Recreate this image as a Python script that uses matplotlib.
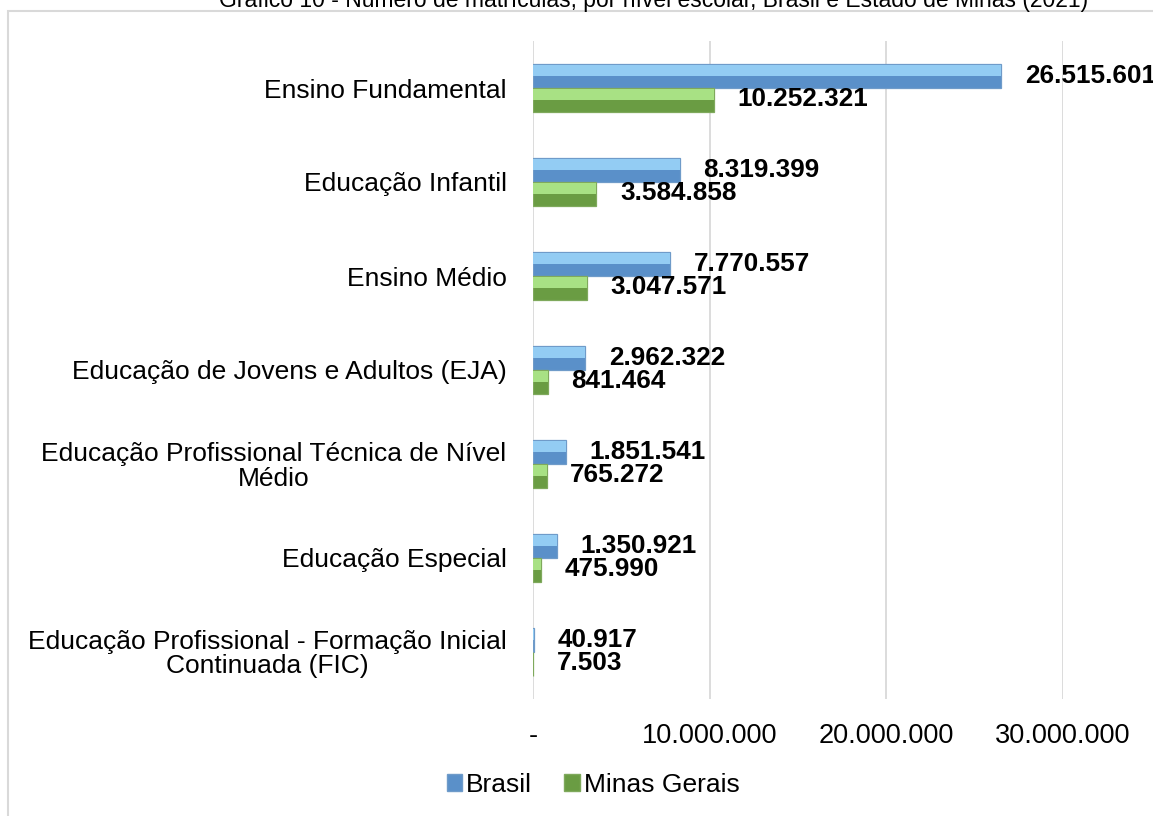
import matplotlib
matplotlib.use("Agg")
import matplotlib.pyplot as plt
from matplotlib.patches import Rectangle, Patch

plt.rcParams['font.family'] = ['Liberation Sans', 'DejaVu Sans']

categorias = [
    "Ensino Fundamental",
    "Educação Infantil",
    "Ensino Médio",
    "Educação de Jovens e Adultos (EJA)",
    "Educação Profissional Técnica de Nível\nMédio",
    "Educação Especial",
    "Educação Profissional - Formação Inicial\nContinuada (FIC)",
]
brasil = [26515601, 8319399, 7770557, 2962322, 1851541, 1350921, 40917]
minas = [10252321, 3584858, 3047571, 841464, 765272, 475990, 7503]
ticks = [0, 10000000, 20000000, 30000000]
titulo = "Gráfico 10 - Número de matrículas, por nível escolar, Brasil e Estado de Minas (2021)"


def fmt(v):
    if v == 0:
        return "-"
    return f"{v:,}".replace(",", ".")


W, H = 1153, 816
fig = plt.figure(figsize=(W / 100, H / 100), dpi=100)
ax = fig.add_axes([533 / W, 1 - 699 / H, 530 / W, 658 / H])

# moldura do gráfico (cortada na direita/embaixo como no original)
fig.patches.append(Rectangle((8 / W, -0.05), 1.1, 1 - 11 / H + 0.05,
                             transform=fig.transFigure, fill=False,
                             edgecolor="#D9D9D9", linewidth=1.5))
# título cortado no topo, como na imagem original
fig.text(654 / W, 1 - 7 / H, titulo, ha="center", va="baseline", fontsize=16.5)

h = 0.255
y = list(range(len(categorias)))
yb = [i - h / 2 for i in y]
ym = [i + h / 2 for i in y]

# barras com efeito de chanfro: base escura + metade superior clara
ax.barh(yb, brasil, height=h, color="#5A90C9", edgecolor="#6F9BC9", linewidth=0.9, zorder=3)
ax.barh([v - h * 0.22 for v in yb], brasil, height=h * 0.46, color="#93CCF3", linewidth=0, zorder=4)
ax.barh(ym, minas, height=h, color="#6A9C43", edgecolor="#7FA95C", linewidth=0.9, zorder=3)
ax.barh([v - h * 0.22 for v in ym], minas, height=h * 0.46, color="#A8E184", linewidth=0, zorder=4)

for yy, v in zip(yb, brasil):
    ax.annotate(fmt(v), (v, yy), xytext=(17, 0), textcoords="offset points",
                ha="left", va="center", fontsize=18.8, fontweight="bold",
                annotation_clip=False, zorder=5)
for yy, v in zip(ym, minas):
    ax.annotate(fmt(v), (v, yy), xytext=(17, 1), textcoords="offset points",
                ha="left", va="center", fontsize=18.8, fontweight="bold",
                annotation_clip=False, zorder=5)

ax.set_xlim(0, 30000000)
ax.set_ylim(len(categorias) - 0.5, -0.5)
ax.set_xticks(ticks)
ax.set_xticklabels([fmt(t) for t in ticks], fontsize=19.5)
ax.set_yticks(y)
ax.set_yticklabels(categorias, fontsize=19, linespacing=1.0, multialignment="center")
ax.tick_params(axis="x", length=0, pad=17)
ax.tick_params(axis="y", length=0, pad=19)
ax.grid(axis="x", color="#D9D9D9", linewidth=1.3, zorder=0)
ax.set_axisbelow(True)
for s in ax.spines.values():
    s.set_visible(False)

handles = [Patch(facecolor="#5A90C9", edgecolor="#6F9BC9", label="Brasil"),
           Patch(facecolor="#6A9C43", edgecolor="#7FA95C", label="Minas Gerais")]
fig.legend(handles=handles, loc="center", bbox_to_anchor=(593 / W, 1 - 785 / H),
           ncol=2, frameon=False, fontsize=19, handlelength=0.6, handleheight=0.6,
           handletextpad=0.15, columnspacing=1.2)

fig.savefig("out.png", dpi=100)
